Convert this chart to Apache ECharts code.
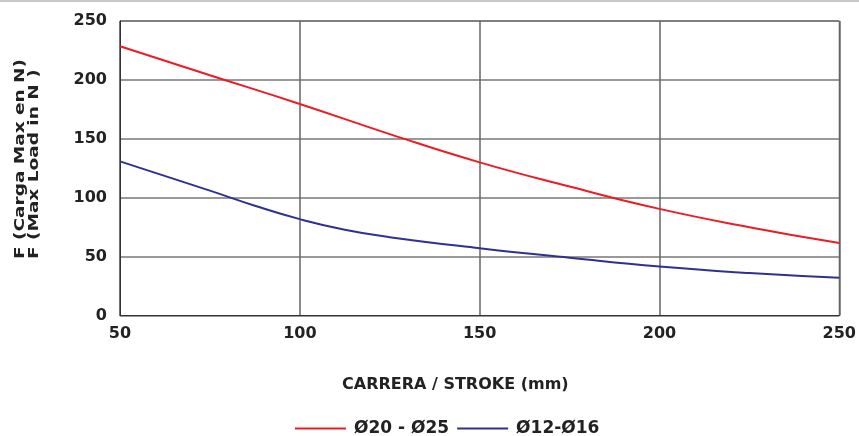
<!DOCTYPE html>
<html>
<head>
<meta charset="utf-8">
<script src="https://cdn.jsdelivr.net/npm/echarts@6/dist/echarts.min.js"></script>
<style>html,body{margin:0;padding:0;background:#fff;}#c{width:859px;height:436px;}</style>
</head>
<body>
<div id="c"></div>
<script>
var strokesA = [50, 75, 100, 125, 150, 175, 200, 225, 250];
var loadD20D25 = [228.6, 204, 179.6, 154, 130, 109.5, 90.5, 75, 61.5];
var strokesB = [50, 75, 87.5, 100, 112.5, 125, 150, 175, 200, 225, 250];
var loadD12D16 = [130.8, 106, 93.2, 81.8, 72.8, 66.5, 57.1, 49, 41.5, 36, 32];
var seriesNames = ['Ø20 - Ø25', 'Ø12-Ø16'];
var xTitle = 'CARRERA / STROKE (mm)';
var yTitle = 'F (Carga Max en N)\nF (Max Load in N )';

function pairs(xs, ys) { return xs.map(function (x, i) { return [x, ys[i]]; }); }

var FONT = '"DejaVu Sans", sans-serif';
var chart = echarts.init(document.getElementById('c'), null, { renderer: 'canvas' });
chart.setOption({
  animation: false,
  backgroundColor: '#fff',
  grid: { left: 120, right: 18, top: 21, bottom: 120.5, show: true, borderColor: '#333', borderWidth: 1 },
  xAxis: {
    type: 'value', min: 50, max: 250, interval: 50,
    axisLine: { show: true, lineStyle: { color: '#333', width: 1 } },
    axisTick: { show: false },
    splitLine: { show: true, lineStyle: { color: '#666', width: 1.5 } },
    axisLabel: { color: '#222', fontFamily: FONT, fontWeight: 'bold', fontSize: 16, margin: 10 }
  },
  yAxis: {
    type: 'value', min: 0, max: 250, interval: 50,
    axisLine: { show: true, lineStyle: { color: '#333', width: 1 } },
    axisTick: { show: false },
    splitLine: { show: true, lineStyle: { color: '#777', width: 1.5 } },
    axisLabel: { color: '#222', fontFamily: FONT, fontWeight: 'bold', fontSize: 16, margin: 13 }
  },
  legend: {
    left: 290, top: 415,
    icon: 'rect',
    itemWidth: 51, itemHeight: 2, itemGap: 8,
    textStyle: { color: '#222', fontFamily: FONT, fontWeight: 'bold', fontSize: 17, padding: [0, 0, 0, 3] },
    data: seriesNames
  },
  graphic: [
    { type: 'rect', left: 0, top: 0, shape: { width: 859, height: 2 }, style: { fill: '#c8c8c8' } },
    { type: 'text', left: 342, top: 377, style: { text: xTitle, fill: '#222', font: 'bold 16px ' + FONT } },
    { type: 'text', x: 13, y: 259, rotation: Math.PI / 2, scaleX: 1.32,
      style: { text: yTitle, fill: '#222', font: 'bold 14px ' + FONT, align: 'left', verticalAlign: 'top', lineHeight: 14 } }
  ],
  series: [
    { name: seriesNames[0], type: 'line', smooth: true, symbol: 'none', data: pairs(strokesA, loadD20D25),
      lineStyle: { color: '#ed1c24', width: 2 }, itemStyle: { color: '#ed1c24' } },
    { name: seriesNames[1], type: 'line', smooth: true, symbol: 'none', data: pairs(strokesB, loadD12D16),
      lineStyle: { color: '#2e3192', width: 2 }, itemStyle: { color: '#2e3192' } }
  ]
});
</script>
</body>
</html>
